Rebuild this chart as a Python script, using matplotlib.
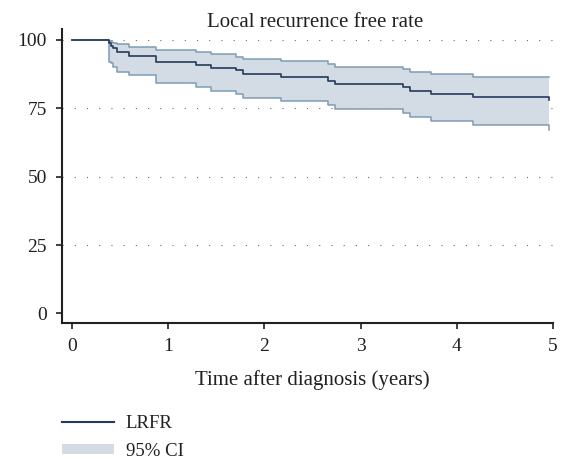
import matplotlib
matplotlib.use("Agg")
import matplotlib.pyplot as plt
from matplotlib.lines import Line2D
from matplotlib.patches import Patch

# ---- data ----
times = [0, 0.39, 0.41, 0.43, 0.47, 0.595, 0.875, 1.29, 1.45, 1.71, 1.78,
         2.17, 2.66, 2.73, 3.44, 3.51, 3.73, 4.17, 4.96]
lrfr = [100, 98.8, 97.8, 97.0, 95.5, 94.3, 92.1, 90.9, 89.9, 88.9, 87.5,
        86.4, 85.1, 83.9, 82.7, 81.5, 80.3, 79.1, 78.0]
ci_upper = [100, 99.6, 99.2, 98.8, 98.4, 97.6, 96.3, 95.5, 94.8, 93.9, 93.2,
            92.3, 91.2, 90.2, 89.4, 88.4, 87.5, 86.4, 86.4]
ci_lower = [100, 92.1, 91.5, 90.2, 88.2, 87.0, 84.2, 82.7, 81.5, 80.1, 78.9,
            77.5, 76.2, 74.7, 73.2, 72.0, 70.4, 68.9, 67.0]
x_ticks = [0, 1, 2, 3, 4, 5]
y_ticks = [0, 25, 50, 75, 100]

title = "Local recurrence free rate"
xlabel = "Time after diagnosis (years)"
legend_labels = ["LRFR", "95% CI"]

# ---- style ----
plt.rcParams['font.family'] = ['Liberation Serif', 'DejaVu Serif']
ink = '#231f20'
navy = '#25395a'
fill_c = '#d3dce4'
edge_c = '#7f9bb4'

W, H = 563, 459
fig = plt.figure(figsize=(W / 100, H / 100), dpi=100)
L, R, T, B = 61.8, 553.0, 29.0, 323.3
ax = fig.add_axes([L / W, 1 - B / H, (R - L) / W, (B - T) / H])

ax.set_xlim(-0.104, 5.0)
ax.set_ylim(-3.6, 104.0)

for y in y_ticks[1:]:
    ax.axhline(y, color='#6a6a6a', lw=0.8, linestyle=(0, (1, 10)), zorder=0)

ax.fill_between(times, ci_lower, ci_upper, step='post', color=fill_c,
                lw=0, zorder=1)
ax.step(times, ci_upper, where='post', color=edge_c, lw=1.1, zorder=2)
ax.step(times, ci_lower, where='post', color=edge_c, lw=1.1, zorder=2)
ax.step(times, lrfr, where='post', color=navy, lw=1.2, zorder=3)

ax.set_xticks(x_ticks)
ax.set_yticks(y_ticks)
ax.tick_params(axis='both', direction='out', length=4.3, width=1.2,
               color=ink, labelcolor=ink, labelsize=14)
ax.tick_params(axis='x', pad=6)
ax.tick_params(axis='y', pad=6.5)

for s in ['top', 'right']:
    ax.spines[s].set_visible(False)
for s in ['left', 'bottom']:
    ax.spines[s].set_linewidth(1.5)
    ax.spines[s].set_color(ink)

ax.set_title(title, fontsize=15, color=ink, x=(315 - L) / (R - L),
             y=(B - 26.7) / (B - T), va='baseline', pad=0)
ax.set_xlabel(xlabel, fontsize=15, color=ink, va='baseline')
ax.xaxis.set_label_coords((312 - L) / (R - L), (B - 385) / (B - T))

handles = [Line2D([], [], color=navy, lw=1.5),
           Patch(facecolor=fill_c, edgecolor='none')]
fig.legend(handles, legend_labels, loc='upper left',
           bbox_to_anchor=(L / W, 1 - 415 / H), frameon=False, fontsize=13.5,
           handlelength=2.8, handleheight=0.5, handletextpad=0.6,
           labelspacing=0.56, borderpad=0, borderaxespad=0,
           labelcolor=ink)

fig.savefig("out.png", dpi=100)
